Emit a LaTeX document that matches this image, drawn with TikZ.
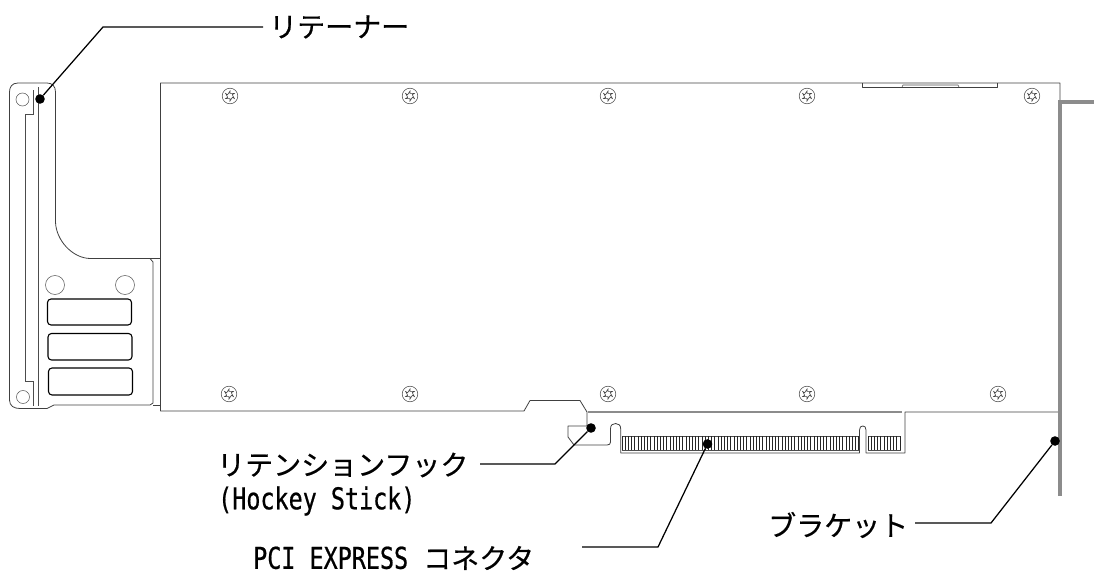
\documentclass[tikz,border=0pt]{standalone}
\usepackage{fontspec}
\setmainfont{Noto Sans CJK JP}[FakeBold=0.5]
\newfontfamily\cjklab{Noto Sans CJK JP}[FakeBold=0.5]
\newfontfamily\latinlab{DejaVu Sans Mono}[FakeStretch=0.78,FakeBold=0.6]
\definecolor{lin}{gray}{0.25}
\definecolor{brk}{gray}{0.55}
\tikzset{
 x=1pt,y=-1pt,
 outline/.style={draw=lin,line width=0.8pt,line join=round},
 thin outline/.style={draw=black!70,line width=0.55pt},
 port/.style={draw=black,line width=1.1pt,rounded corners=3.5pt},
 hole/.style={circle,draw=black!65,line width=0.55pt,minimum size=#1,inner sep=0pt},
 dot/.style={circle,fill=black,minimum size=9.6pt,inner sep=0pt},
 leader/.style={draw=black,line width=1.25pt},
 lab/.style={anchor=west,inner sep=0pt,font=\fontsize{28}{30}\selectfont},
 finger/.style={draw=black!85,line width=0.85pt},
 screw/.pic={
  \draw[black!70,line width=0.55pt] (0,0) circle (7.8);
  \draw[black!75,line width=0.55pt] (90:5)--(30:2.7)--(30:5)--(-30:2.7)--(-30:5)--(-90:2.7)--(-90:5)--(-150:2.7)--(-150:5)--(150:2.7)--(150:5)--(90:2.7)--cycle;
 }
}
\begin{document}
\begin{tikzpicture}
\useasboundingbox (0,0) rectangle (1094,578);
% retainer
\draw[outline] (160,258.5) -- (90,258.5) .. controls (72,258) and (56,240) .. (55.5,222) -- (55.5,92) .. controls (55.5,86) and (52,83) .. (47,83) -- (18,83) .. controls (12,83) and (9.5,87) .. (9.5,92) -- (9.5,400) .. controls (9.5,406) and (14,408.5) .. (20,408.5) -- (47,408.5) -- (54,405) -- (150,405) -- (153,403) -- (153,262) -- (150,258.5);
\draw[outline] (153,405) -- (160,405);
\draw[thin outline] (33,90) -- (33,114) -- (25.5,114) -- (25.5,381) -- (33,381) -- (33,406);
\draw[thin outline] (38.5,87) -- (38.5,405.5);
\node[hole=13pt] (h1) at (22.5,99.5) {};
\node[hole=13pt] (h2) at (23,397) {};
\node[hole=19pt] (h3) at (55,285) {};
\node[hole=19pt] (h4) at (125,285) {};
\draw[port] (47.5,299) rectangle (131.5,325);
\draw[port] (48,333.5) rectangle (132,360);
\draw[port] (48.5,368) rectangle (132.5,395);
% card
\draw[outline] (1060,100) -- (1060,83) -- (160.5,83) -- (160.5,411) -- (524,411) -- (530,400.5) -- (580,400.5) -- (587,412) -- (587,426) -- (568,426) -- (568,437) -- (574,445) -- (607,445) .. controls (609.5,445) and (610.5,444) .. (610.5,442) -- (610.5,429) .. controls (610.5,425) and (612.5,423.5) .. (615.5,423.5) .. controls (618.5,423.5) and (620.7,425) .. (620.7,429) -- (620.7,453) -- (859.5,453) -- (859.5,430) .. controls (859.5,427) and (861,426) .. (862.8,426) .. controls (864.6,426) and (866,427) .. (866,430) -- (866,453) -- (905,453) -- (905,412) -- (1058,412);
\draw[draw=black!45,line width=1.1pt] (588,412) -- (902,412);
\draw[outline] (862,83) -- (862,87) -- (997,87) -- (997,83);
\draw[thin outline] (902,87) -- (903,85) -- (958,85) -- (959,87);
% edge fingers
\draw[thin outline] (622,436) -- (859,436) (622,450) -- (859,450) (868,436) -- (901,436) (868,450) -- (901,450);
\foreach \x in {622,625.2,...,859} \draw[finger] (\x,436) -- (\x,450);
\foreach \x in {868,871.2,...,901.5} \draw[finger] (\x,436) -- (\x,450);
% screws
\foreach \x/\y in {230/96,410/96,608/96,807/96,1032/96,229/394,410/394,608/394,807/394,998/394}
  \pic at (\x,\y) {screw};
% bracket
\draw[draw=brk,line width=3.8pt] (1094,102) -- (1060.3,102) -- (1060.3,496);
% labels
\node[lab] (t1) at (269,27) {リテーナー};
\node[lab] (t2) at (217,465) {リテンションフック};
\node[lab,font=\latinlab\fontsize{30}{30}\selectfont] (t2b) at (218,501) {(Hockey Stick)};
\node[lab] (t3) at (768,525) {ブラケット};
\node[lab,font=\latinlab\fontsize{30}{30}\selectfont] (t4) at (253,558) {PCI EXPRESS {\cjklab\fontsize{28}{30}\selectfont\hspace{1pt}コネクタ}};
% leaders
\node[dot] (d1) at (40,99) {};
\node[dot] (d2) at (591,428) {};
\node[dot] (d3) at (707.5,444) {};
\node[dot] (d4) at (1055,441) {};
\coordinate (e1) at (103,27); \coordinate (f1) at (263,27);
\coordinate (e2) at (555,464); \coordinate (f2) at (480,464);
\coordinate (e3) at (658,547); \coordinate (f3) at (582,547);
\coordinate (e4) at (991,523); \coordinate (f4) at (915,523);
\draw[leader] (d1) -- (e1) -- (f1);
\draw[leader] (d2) -- (e2) -- (f2);
\draw[leader] (d3) -- (e3) -- (f3);
\draw[leader] (d4) -- (e4) -- (f4);
\end{tikzpicture}
\end{document}
